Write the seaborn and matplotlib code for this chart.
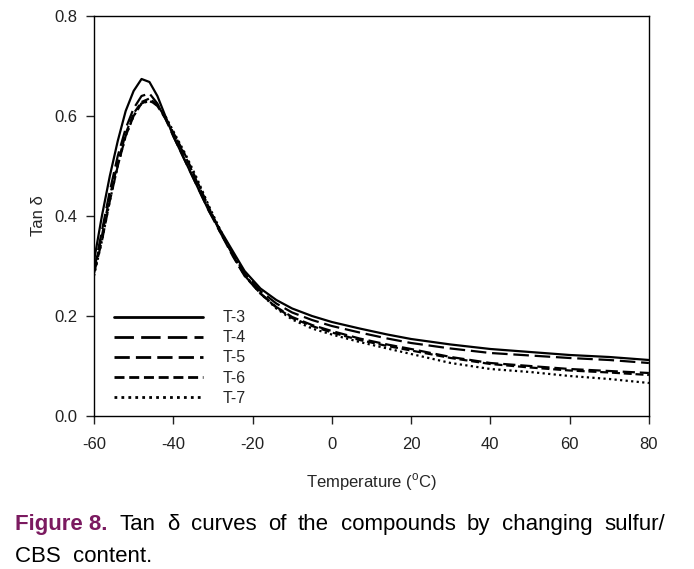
import numpy as np
import pandas as pd
import matplotlib
matplotlib.use("Agg")
import matplotlib.pyplot as plt
import seaborn as sns

# temperature grid (deg C) and tan delta for each compound
temp = [-60, -58, -56, -54, -52, -50, -48, -46, -44, -42, -40, -37, -34, -31,
        -28, -25, -22, -18, -14, -10, -5, 0, 7, 14, 20, 30, 40, 50, 60, 70, 80]

t3 = [0.31, 0.40, 0.48, 0.55, 0.61, 0.65, 0.674, 0.668, 0.64, 0.60, 0.56, 0.51,
      0.46, 0.41, 0.37, 0.33, 0.29, 0.255, 0.232, 0.215, 0.200, 0.188, 0.175,
      0.163, 0.154, 0.143, 0.134, 0.128, 0.122, 0.118, 0.112]
t4 = [0.29, 0.37, 0.45, 0.52, 0.575, 0.615, 0.640, 0.645, 0.625, 0.595, 0.56, 0.51,
      0.46, 0.41, 0.365, 0.325, 0.285, 0.250, 0.225, 0.207, 0.192, 0.180, 0.167,
      0.155, 0.146, 0.135, 0.126, 0.121, 0.116, 0.112, 0.106]
t5 = [0.285, 0.35, 0.43, 0.50, 0.56, 0.60, 0.625, 0.632, 0.62, 0.595, 0.565, 0.52,
      0.468, 0.415, 0.365, 0.32, 0.28, 0.245, 0.218, 0.198, 0.182, 0.170, 0.155,
      0.143, 0.134, 0.118, 0.106, 0.100, 0.094, 0.090, 0.086]
t6 = [0.29, 0.36, 0.44, 0.505, 0.565, 0.605, 0.628, 0.635, 0.622, 0.597, 0.567, 0.522,
      0.47, 0.417, 0.367, 0.322, 0.281, 0.245, 0.217, 0.196, 0.180, 0.167, 0.152,
      0.140, 0.131, 0.116, 0.104, 0.097, 0.091, 0.087, 0.082]
t7 = [0.28, 0.35, 0.43, 0.50, 0.56, 0.60, 0.625, 0.630, 0.622, 0.60, 0.57, 0.525,
      0.475, 0.42, 0.37, 0.325, 0.283, 0.245, 0.215, 0.193, 0.175, 0.163, 0.148,
      0.135, 0.124, 0.106, 0.094, 0.088, 0.080, 0.074, 0.066]

names = ["T-3", "T-4", "T-5", "T-6", "T-7"]
series = [t3, t4, t5, t6, t7]

caption_words = ["Tan", "δ", "curves", "of", "the", "compounds", "by", "changing", "sulfur/"]

df = pd.concat([pd.DataFrame({"temp": temp, "tan": s, "sample": n})
                for n, s in zip(names, series)], ignore_index=True)

sns.set_style("ticks")
plt.rcParams["font.family"] = ["Liberation Sans", "DejaVu Sans"]
plt.rcParams["mathtext.fontset"] = "custom"
plt.rcParams["mathtext.rm"] = "Liberation Sans"
plt.rcParams["axes.unicode_minus"] = False

fig = plt.figure(figsize=(6.94, 5.69), dpi=100)
ax = fig.add_axes([0.1354, 0.2689, 0.7996, 0.7030])

dashes = {"T-3": "", "T-4": (7, 2.6), "T-5": (5.5, 2.2), "T-6": (3.6, 1.7), "T-7": (1, 1.5)}
sns.lineplot(data=df, x="temp", y="tan", hue="sample", style="sample",
             palette=["black"] * 5, dashes=dashes, linewidth=1.6, ax=ax,
             legend=True)

ax.set_xlim(-60, 80)
ax.set_ylim(0, 0.8)
ax.set_xticks(np.arange(-60, 81, 20))
ax.set_yticks(np.arange(0, 0.81, 0.2))
ax.set_yticklabels([f"{v:.1f}" for v in np.arange(0, 0.81, 0.2)])
for sp in ax.spines.values():
    sp.set_linewidth(1.0)
    sp.set_color("black")
ax.tick_params(direction="out", length=6, width=1, labelsize=12,
               colors="#222222", pad=6)
ax.tick_params(axis="x", pad=9)

ax.set_xlabel("Temperature ($^{\\mathrm{o}}$C)", fontsize=12, labelpad=14)
ax.set_ylabel("Tan δ", fontsize=12, labelpad=6)

leg = ax.legend(loc="lower left", bbox_to_anchor=(0.01, -0.01), frameon=False,
                fontsize=11.5, handlelength=5.6, handletextpad=1.2,
                labelspacing=0.32, title=None)
for line in leg.get_lines():
    line.set_linewidth(2.0)

# caption, first line justified between x=15 and x=665 px
renderer = fig.canvas.get_renderer()
left, right = 15 / 694, 665 / 694
y1, y2 = 1 - 530 / 569, 1 - 562 / 569
head = fig.text(left, y1, "Figure 8.", fontsize=16, fontweight="bold",
                color="#7b1a60", va="baseline")
items = [head] + [fig.text(0, y1, w, fontsize=16, color="black", va="baseline")
                  for w in caption_words]
widths = [t.get_window_extent(renderer).width / fig.bbox.width for t in items]
gap = (right - left - sum(widths)) / (len(items) - 1)
x = left
for t, w in zip(items, widths):
    t.set_x(x)
    x += w + gap
fig.text(left, y2, "CBS  content.", fontsize=16, color="black", va="baseline")

fig.savefig("out.png", dpi=100)
plt.close(fig)
